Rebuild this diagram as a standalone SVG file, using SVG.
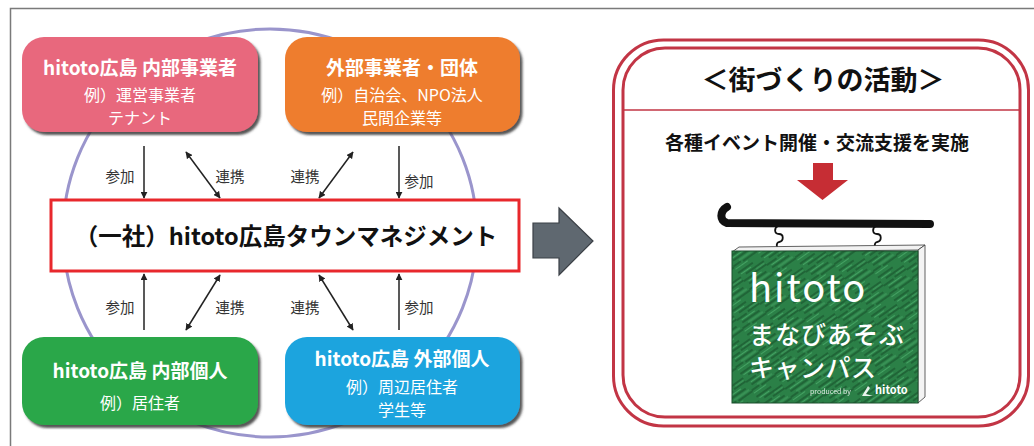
<svg xmlns="http://www.w3.org/2000/svg" width="1034" height="446" viewBox="0 0 1034 446">
  <style>
    .jp { font-family: "Noto Sans CJK JP", "Noto Sans", "Liberation Sans", sans-serif; }
    .title { font-size: 19px; font-weight: 700; fill: #ffffff; text-anchor: middle; }
    .sub { font-size: 16px; font-weight: 400; fill: #ffffff; text-anchor: middle; }
    .lbl { font-size: 14.5px; font-weight: 400; fill: #333333; text-anchor: middle; }
    .arr { stroke: #222222; stroke-width: 1.5; fill: none; }
    .frame { fill: none; stroke: #c23545; stroke-width: 3; }
    .signtxt { fill: #ffffff; font-family: "Noto Sans CJK JP", "Noto Sans", sans-serif; }
  </style>
  <defs>
    <marker id="head" viewBox="0 0 10 10" refX="9" refY="5" markerWidth="7" markerHeight="7" markerUnits="userSpaceOnUse" orient="auto-start-reverse">
      <path d="M0,0 L10,5 L0,10 z" fill="#222222"/>
    </marker>
    <filter id="shadow" x="-10%" y="-10%" width="125%" height="130%">
      <feDropShadow dx="2.5" dy="3" stdDeviation="1.2" flood-color="#3a3a3a" flood-opacity="0.85"/>
    </filter>
    <pattern id="chalk" width="28" height="28" patternUnits="userSpaceOnUse" patternTransform="rotate(-35)">
      <rect width="28" height="28" fill="#2b8047"/>
      <path d="M0,3 H18 M6,8 H28 M0,13 H12 M14,12 H28 M3,18 H24 M0,23 H9 M11,24 H28" stroke="#1c5c31" stroke-width="1.6"/>
      <path d="M2,5.5 H14 M17,10 H27 M4,15.5 H20 M8,21 H26 M0,26.5 H15" stroke="#44a263" stroke-width="1"/>
    </pattern>
  </defs>

  <rect width="1034" height="446" fill="#ffffff"/>
  <!-- outer frame -->
  <rect x="10.5" y="8.5" width="1040" height="460" fill="none" stroke="#7a7a7a" stroke-width="1.5"/>

  <!-- ring behind the organisation chart -->
  <ellipse cx="270" cy="233" rx="207" ry="204" fill="none" stroke="#9a95cc" stroke-width="3"/>

  <!-- connectors -->
  <g id="connectors">
    <line class="arr" x1="144" y1="146" x2="144" y2="198" marker-end="url(#head)"/>
    <line class="arr" x1="186" y1="152" x2="220" y2="198" marker-start="url(#head)" marker-end="url(#head)"/>
    <line class="arr" x1="353" y1="152" x2="319" y2="198" marker-start="url(#head)" marker-end="url(#head)"/>
    <line class="arr" x1="399" y1="146" x2="399" y2="198" marker-end="url(#head)"/>

    <line class="arr" x1="144" y1="330" x2="144" y2="274" marker-end="url(#head)"/>
    <line class="arr" x1="186" y1="330" x2="220" y2="275" marker-start="url(#head)" marker-end="url(#head)"/>
    <line class="arr" x1="353" y1="330" x2="319" y2="275" marker-start="url(#head)" marker-end="url(#head)"/>
    <line class="arr" x1="399" y1="330" x2="399" y2="274" marker-end="url(#head)"/>

    <g class="jp lbl">
      <text x="120" y="182">参加</text>
      <text x="230" y="182">連携</text>
      <text x="305" y="182">連携</text>
      <text x="419" y="187">参加</text>
      <text x="120" y="313">参加</text>
      <text x="230" y="313">連携</text>
      <text x="305" y="313">連携</text>
      <text x="419" y="313">参加</text>
    </g>

    <!-- grey block arrow -->
    <path d="M533,223 H559 V208 L593,241 L559,275 V258 H533 Z" fill="#5f6870" stroke="#3b4046" stroke-width="1.2"/>
  </g>

  <g id="node-inner-business">
    <rect x="22" y="37" width="236" height="95" rx="22" fill="#e8687d" filter="url(#shadow)"/>
    <text class="jp title" x="140" y="75">hitoto広島 内部事業者</text>
    <text class="jp sub" x="140" y="100.5">例）運営事業者</text>
    <text class="jp sub" x="140" y="124">テナント</text>
  </g>

  <g id="node-outer-business">
    <rect x="285" y="37" width="235" height="95" rx="22" fill="#ee7d2f" filter="url(#shadow)"/>
    <text class="jp title" x="402" y="75">外部事業者・団体</text>
    <text class="jp sub" x="402" y="100.5">例）自治会、NPO法人</text>
    <text class="jp sub" x="402" y="124">民間企業等</text>
  </g>

  <g id="node-town-management">
    <rect x="51" y="200" width="468" height="71" fill="#ffffff" stroke="#e8282c" stroke-width="3"/>
    <text class="jp" x="286" y="245" font-size="23.5" font-weight="700" fill="#111111" text-anchor="middle">（一社）hitoto広島タウンマネジメント</text>
  </g>

  <g id="node-inner-person">
    <rect x="22" y="337" width="236" height="88" rx="22" fill="#29a748" filter="url(#shadow)"/>
    <text class="jp title" x="140" y="378">hitoto広島 内部個人</text>
    <text class="jp sub" x="140" y="409">例）居住者</text>
  </g>

  <g id="node-outer-person">
    <rect x="285" y="337" width="235" height="88" rx="22" fill="#1ca4de" filter="url(#shadow)"/>
    <text class="jp title" x="402" y="366">hitoto広島 外部個人</text>
    <text class="jp sub" x="402" y="392.5">例）周辺居住者</text>
    <text class="jp sub" x="402" y="416">学生等</text>
  </g>

  <!-- activities panel -->
  <g id="node-activities">
    <rect class="frame" x="613.5" y="40" width="415" height="386" rx="50"/>
    <rect class="frame" x="623" y="48" width="397" height="369" rx="42"/>
    <line x1="623" y1="110" x2="1020" y2="110" stroke="#c23545" stroke-width="1.5"/>
    <text class="jp" x="823" y="90" font-size="27" font-weight="700" fill="#111111" text-anchor="middle">＜街づくりの活動＞</text>
    <text class="jp" x="817" y="150" font-size="19" font-weight="700" fill="#111111" text-anchor="middle">各種イベント開催・交流支援を実施</text>
    <path d="M813,163 H833 V180 H848 L822.5,200 L797,180 H813 Z" fill="#c62d34"/>

    <!-- hanging sign -->
    <path d="M727,207 C720,211 719,221 727,223 L930,224" fill="none" stroke="#111111" stroke-width="8" stroke-linecap="round"/>
    <path d="M778,226 c-4,2 -4,8 1,8 c5,0 5,7 0,8 c-3,1 -3,5 0,8" fill="none" stroke="#111111" stroke-width="1.8"/>
    <path d="M876,226 c-4,2 -4,8 1,8 c5,0 5,7 0,8 c-3,1 -3,5 0,8" fill="none" stroke="#111111" stroke-width="1.8"/>
    <path d="M732,252 L739,247 L925,245 L918,250 Z" fill="#f2f2f2" stroke="#3a3a3a" stroke-width="0.8"/>
    <path d="M918,250 L925,245 L925,397 L918,403 Z" fill="#f4f4f4" stroke="#3a3a3a" stroke-width="0.8"/>
    <rect x="732" y="251" width="186" height="152" fill="url(#chalk)" stroke="#1a4f2c" stroke-width="1"/>
    <text class="signtxt" x="749" y="302" font-size="38" font-weight="400" letter-spacing="2">hitoto</text>
    <text class="signtxt" x="749" y="344" font-size="25" font-weight="500" letter-spacing="1">まなびあそぶ</text>
    <text class="signtxt" x="749" y="377" font-size="25" font-weight="500" letter-spacing="0.5">キャンパス</text>
    <text class="signtxt" x="810" y="394" font-size="7" opacity="0.85">produced by</text>
    <path d="M862,396 L868,386 L870,388 L866,394 L873,396 Z" fill="#ffffff" opacity="0.9"/>
    <text class="signtxt" x="875" y="394" font-size="11" font-weight="700">hitoto</text>
  </g>
</svg>
